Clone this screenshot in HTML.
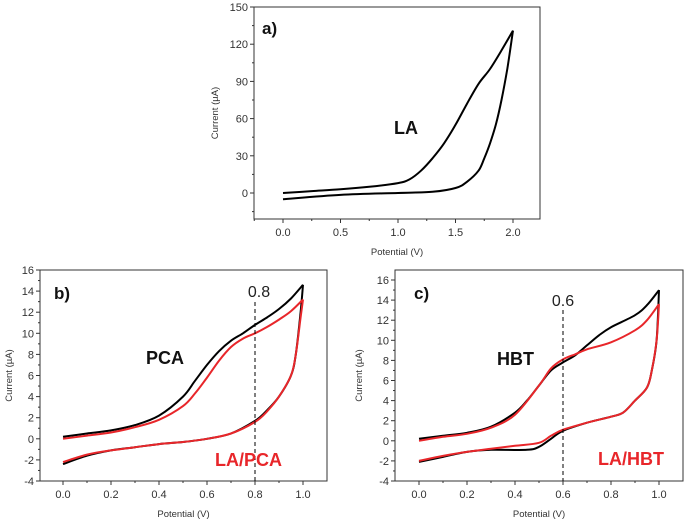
<!DOCTYPE html>
<html><head><meta charset="utf-8"><style>
html,body{margin:0;padding:0;background:#fff;}
svg{display:block;font-family:"Liberation Sans",sans-serif;}
</style></head><body>
<svg id="fig" width="685" height="526" viewBox="0 0 685 526"></svg>
<script>
// Panel a data (LA)
const aUpX=[0,0.25,0.5,0.75,1.0,1.1,1.2,1.3,1.4,1.5,1.6,1.7,1.8,1.9,2.0];
const aUpY=[0,1.5,3,5,8,11,18,28,40,55,72,88,100,115,131];
const aLoX=[2.0,1.95,1.9,1.85,1.8,1.75,1.7,1.6,1.5,1.3,1.0,0.5,0];
const aLoY=[131,100,75,55,40,28,18,9,4,1,0,-1.5,-5];
// Panel b data (PCA black, LA/PCA red)
const bUpX=[0,0.1,0.2,0.3,0.4,0.5,0.55,0.6,0.65,0.7,0.75,0.8,0.85,0.9,0.95,1.0];
const bBlkUp=[0.2,0.5,0.8,1.3,2.2,4,5.5,7,8.3,9.3,10,10.8,11.5,12.3,13.3,14.6];
const bRedUp=[0,0.3,0.6,1.1,1.8,3.1,4.3,5.8,7.4,8.7,9.5,10,10.6,11.3,12.1,13.2];
const bLoX=[1.0,0.99,0.97,0.95,0.9,0.85,0.8,0.7,0.6,0.5,0.4,0.3,0.2,0.1,0];
const bBlkLo=[14.6,12,8,6,4,2.7,1.7,0.5,0,-0.3,-0.5,-0.8,-1.1,-1.6,-2.4];
const bRedLo=[13.2,11.5,8,6,4,2.6,1.6,0.5,0,-0.3,-0.5,-0.8,-1.1,-1.5,-2.2];
// Panel c data (HBT black, LA/HBT red)
const cBlkUpX=[0,0.1,0.2,0.3,0.4,0.45,0.5,0.55,0.6,0.65,0.7,0.75,0.8,0.9,0.95,1.0];
const cBlkUp=[0.2,0.5,0.8,1.4,2.8,4,5.5,7,7.8,8.5,9.5,10.5,11.3,12.5,13.5,15];
const cBlkLoX=[1.0,0.99,0.97,0.95,0.9,0.85,0.8,0.7,0.6,0.55,0.5,0.45,0.3,0.2,0.1,0];
const cBlkLo=[15,10,7,5.3,4,2.8,2.4,1.8,1.0,0.2,-0.6,-0.9,-0.9,-1.1,-1.6,-2.1];
const cRedUpX=[0,0.1,0.2,0.3,0.4,0.5,0.55,0.6,0.65,0.7,0.8,0.9,0.95,1.0];
const cRedUp=[0,0.4,0.7,1.3,2.6,5.5,7.2,8.1,8.6,9.1,9.8,11,12,13.6];
const cRedLoX=[1.0,0.99,0.97,0.95,0.9,0.85,0.8,0.7,0.6,0.55,0.5,0.4,0.3,0.2,0.1,0];
const cRedLo=[13.6,10,7,5.3,4,2.8,2.4,1.8,1.1,0.5,-0.2,-0.5,-0.8,-1.1,-1.5,-2];
// Tick labels
const aXTicks=["0.0","0.5","1.0","1.5","2.0"];
const aYTicks=["0","30","60","90","120","150"];
const bcXTicks=["0.0","0.2","0.4","0.6","0.8","1.0"];
const bcYTicks=["-4","-2","0","2","4","6","8","10","12","14","16"];

const NS="http://www.w3.org/2000/svg";
const svg=document.getElementById('fig');
function mk(tag,attrs,parent){const e=document.createElementNS(NS,tag);for(const k in attrs)e.setAttribute(k,attrs[k]);(parent||svg).appendChild(e);return e;}
function txt(s,attrs,parent){const e=mk('text',attrs,parent);e.textContent=s;return e;}

function panel(id,box,xd,yd,xt,yt,xMinorStep,yMinorStep){
  const g=mk('g',{});
  
  
  const sx=v=>box.x0+(v-xd[0])/(xd[1]-xd[0])*(box.x1-box.x0);
  const sy=v=>box.y0+(v-yd[0])/(yd[1]-yd[0])*(box.y1-box.y0);
  const frame=mk('rect',{x:box.L,y:box.T,width:box.R-box.L,height:box.B-box.T,fill:'none',stroke:'#333','stroke-width':1},g);
  
  
  const xg=mk('g',{},g);
  
  
  xt.forEach(s=>{const v=parseFloat(s),X=sx(v);
    mk('line',{x1:X,x2:X,y1:box.B,y2:box.B+4,stroke:'#333'},xg);
    const t=txt(s,{x:X,y:box.B+17,'text-anchor':'middle','font-size':11,fill:'#333'},xg);
    
    
    const m=v+xMinorStep; if(sx(m)<box.R) mk('line',{x1:sx(m),x2:sx(m),y1:box.B,y2:box.B+2,stroke:'#333'},xg);
  });
  const xm=xd[0]-xMinorStep; if(sx(xm)>box.L) mk('line',{x1:sx(xm),x2:sx(xm),y1:box.B,y2:box.B+2,stroke:'#333'},xg);
  const yg=mk('g',{},g);
  
  
  yt.forEach(s=>{const v=parseFloat(s),Y=sy(v);
    mk('line',{x1:box.L-4,x2:box.L,y1:Y,y2:Y,stroke:'#333'},yg);
    const t=txt(s,{x:box.L-6,y:Y+4,'text-anchor':'end','font-size':11,fill:'#333'},yg);
    
    
    const m=v-yMinorStep; if(sy(m)<box.B && sy(m)>box.T) mk('line',{x1:box.L-2,x2:box.L,y1:sy(m),y2:sy(m),stroke:'#333'},yg);
  });
  const xl=txt('Potential (V)',{x:(box.L+box.R)/2,y:box.B+36,'text-anchor':'middle','font-size':9.5,fill:'#333'},g);
  
  
  const cy=(box.T+box.B)/2,cx=box.yTitleX;
  const yl=txt('Current (\u00b5A)',{x:cx,y:cy,'text-anchor':'middle','font-size':9.5,fill:'#333',transform:'rotate(-90 '+cx+' '+cy+')'},g);
  
  
  return {g,sx,sy};
}
function curve(p,xs,ys,color,name){
  const P=xs.map((x,i)=>[p.sx(x),p.sy(ys[i])]);
  let d='M'+P[0][0].toFixed(1)+' '+P[0][1].toFixed(1);
  for(let i=0;i<P.length-1;i++){
    const p0=P[Math.max(0,i-1)],p1=P[i],p2=P[i+1],p3=P[Math.min(P.length-1,i+2)];
    const c1=[p1[0]+(p2[0]-p0[0])/6,p1[1]+(p2[1]-p0[1])/6];
    const c2=[p2[0]-(p3[0]-p1[0])/6,p2[1]-(p3[1]-p1[1])/6];
    d+=' C'+c1[0].toFixed(1)+' '+c1[1].toFixed(1)+' '+c2[0].toFixed(1)+' '+c2[1].toFixed(1)+' '+p2[0].toFixed(1)+' '+p2[1].toFixed(1);
  }
  const e=mk('path',{d:d,fill:'none',stroke:color,'stroke-width':2,'stroke-linejoin':'round'},p.g);
  
  
}

// Panel a
const pa=panel('a',{L:254,R:540,T:7,B:219,x0:283,x1:513,y0:193,y1:7,yTitleX:218},[0,2],[0,150],aXTicks,aYTicks,0.25,15);
curve(pa,aUpX,aUpY,'#000','la-forward-scan');
curve(pa,aLoX,aLoY,'#000','la-reverse-scan');
let t=txt('a)',{x:262,y:34,'font-size':17,'font-weight':'bold',fill:'#111'});

t=txt('LA',{x:394,y:134,'font-size':18,'font-weight':'bold',fill:'#111'});


// Panel b
const pb=panel('b',{L:40,R:327,T:270,B:481,x0:63,x1:303,y0:481,y1:270,yTitleX:12},[0,1],[-4,16],bcXTicks,bcYTicks,0.1,1);
curve(pb,bUpX,bBlkUp,'#000','pca-forward-scan');
curve(pb,bLoX,bBlkLo,'#000','pca-reverse-scan');
curve(pb,bUpX,bRedUp,'#e8262a','la-pca-forward-scan');
curve(pb,bLoX,bRedLo,'#e8262a','la-pca-reverse-scan');
let dl=mk('line',{x1:pb.sx(0.8),x2:pb.sx(0.8),y1:302,y2:481,stroke:'#000','stroke-dasharray':'4,3'});

t=txt('0.8',{x:pb.sx(0.8)+4,y:297,'text-anchor':'middle','font-size':16,fill:'#222'});

t=txt('b)',{x:54,y:299,'font-size':17,'font-weight':'bold',fill:'#111'});

t=txt('PCA',{x:146,y:364,'font-size':18,'font-weight':'bold',fill:'#111'});

t=txt('LA/PCA',{x:215,y:466,'font-size':18,'font-weight':'bold',fill:'#e8262a'});


// Panel c
const pc=panel('c',{L:395,R:683,T:270,B:481,x0:419,x1:659,y0:481,y1:280,yTitleX:362},[0,1],[-4,16],bcXTicks,bcYTicks,0.1,1);
curve(pc,cBlkUpX,cBlkUp,'#000','hbt-forward-scan');
curve(pc,cBlkLoX,cBlkLo,'#000','hbt-reverse-scan');
curve(pc,cRedUpX,cRedUp,'#e8262a','la-hbt-forward-scan');
curve(pc,cRedLoX,cRedLo,'#e8262a','la-hbt-reverse-scan');
dl=mk('line',{x1:pc.sx(0.6),x2:pc.sx(0.6),y1:310,y2:481,stroke:'#000','stroke-dasharray':'4,3'});

t=txt('0.6',{x:pc.sx(0.6),y:306,'text-anchor':'middle','font-size':16,fill:'#222'});

t=txt('c)',{x:414,y:299,'font-size':17,'font-weight':'bold',fill:'#111'});

t=txt('HBT',{x:497,y:365,'font-size':18,'font-weight':'bold',fill:'#111'});

t=txt('LA/HBT',{x:598,y:465,'font-size':18,'font-weight':'bold',fill:'#e8262a'});

</script>
</body></html>
